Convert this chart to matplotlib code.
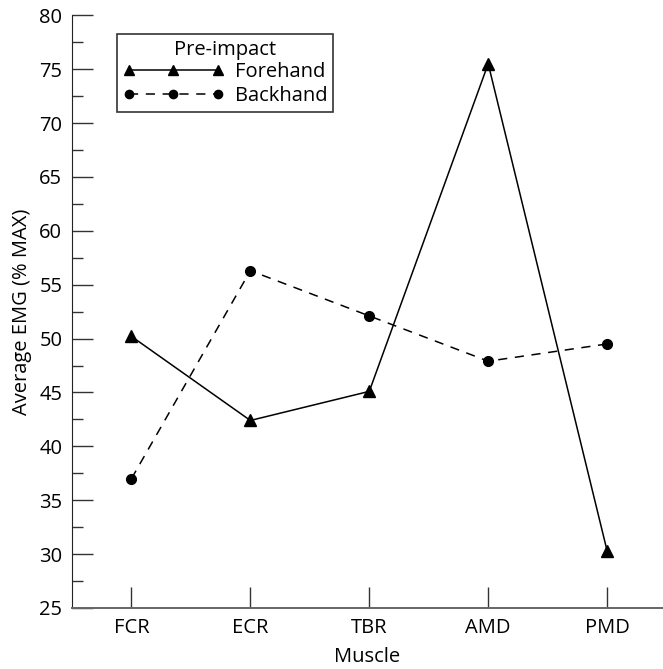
import matplotlib.pyplot as plt
import numpy as np

muscles = ['FCR', 'ECR', 'TBR', 'AMD', 'PMD']
forehand = [50.2, 42.4, 45.1, 75.5, 30.3]
backhand = [37.0, 56.3, 52.1, 47.9, 49.5]

plt.rcParams['font.family'] = ['Open Sans', 'DejaVu Sans']

fig = plt.figure(figsize=(6.63, 6.69), dpi=100)
ax = fig.add_axes([0.1086, 0.0912, 0.8914, 0.886])

x = np.arange(len(muscles))
ax.plot(x, forehand, '-', color='black', lw=1.1, marker='^', ms=8, label='Forehand')
ax.plot(x, backhand, '--', color='black', lw=1.1, marker='o', ms=7,
        dashes=(6, 5), label='Backhand')

ax.set_xlim(-0.5, 4.47)
ax.set_ylim(25, 80)
ax.set_xticks(x)
ax.set_xticklabels(muscles)
ax.set_yticks(np.arange(25, 81, 5))
ax.set_yticks(np.arange(27.5, 80, 5), minor=True)

ax.tick_params(axis='both', which='major', direction='in', length=15, width=1,
               labelsize=14.5, color='#333333', pad=7)
ax.tick_params(axis='y', which='minor', direction='in', length=8, width=1, color='#333333')
ax.tick_params(axis='x', which='minor', bottom=False)

for s in ['top', 'right']:
    ax.spines[s].set_visible(False)
ax.spines['left'].set_color('#222222')
ax.spines['bottom'].set_color('#666666')
ax.spines['bottom'].set_linewidth(1.4)

ax.set_xlabel('Muscle', fontsize=14.5, labelpad=7)
ax.set_ylabel('Average EMG (% MAX)', fontsize=14.5, labelpad=5)

leg = ax.legend(title='Pre-impact', loc='upper left', bbox_to_anchor=(0.076, 0.968),
                numpoints=3, handlelength=5.0, fontsize=14.5, title_fontsize=14.5,
                frameon=True, fancybox=False, borderpad=0.3, labelspacing=0.22,
                handletextpad=0.55, borderaxespad=0, markerscale=0.85)
leg.get_frame().set_edgecolor('black')
leg.get_frame().set_linewidth(1.2)
leg._legend_box.sep = 1

fig.savefig('out.png', dpi=100)
